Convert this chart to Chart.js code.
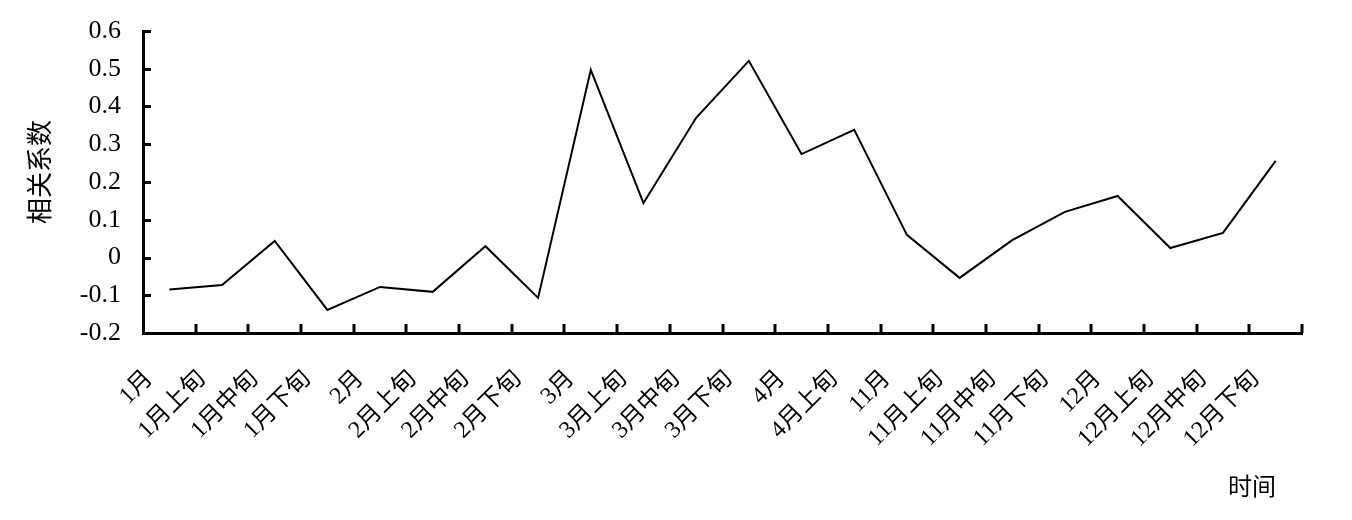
<!DOCTYPE html>
<html>
<head>
<meta charset="utf-8">
<script src="https://cdn.jsdelivr.net/npm/chart.js@4.4.1/dist/chart.umd.min.js"></script>
<style>
  html, body { margin: 0; padding: 0; background: #fff; }
  #wrap { width: 1352px; height: 520px; }
</style>
</head>
<body>
<div id="wrap"><canvas id="corrChart" width="1352" height="520"></canvas></div>
<script>
// categories along the time axis
const categories = [
    "1月", "1月上旬", "1月中旬", "1月下旬",
    "2月", "2月上旬", "2月中旬", "2月下旬",
    "3月", "3月上旬", "3月中旬", "3月下旬",
    "4月", "4月上旬",
    "11月", "11月上旬", "11月中旬", "11月下旬",
    "12月", "12月上旬", "12月中旬", "12月下旬"
];

// correlation coefficient for each period
const corrValues = [
    -0.085, -0.073, 0.044, -0.139,
    -0.078, -0.091, 0.030, -0.107,
    0.497, 0.144, 0.370, 0.521,
    0.274, 0.338,
    0.060, -0.054, 0.046, 0.121,
    0.163, 0.025, 0.065, 0.256
];

const yTickLabels = ["-0.2", "-0.1", "0", "0.1", "0.2", "0.3", "0.4", "0.5", "0.6"];
const yAxisTitle = "相关系数";
const xAxisTitle = "时间";

const fontFamily = "'Liberation Serif', 'Times New Roman', 'Noto Sans CJK SC', serif";

// inward tick marks + both axis titles
const axisMarks = {
    id: "axisMarks",
    afterDraw(chart) {
        const { ctx, chartArea, scales: { x, y } } = chart;
        ctx.save();
        ctx.strokeStyle = "#000";
        ctx.lineWidth = 3;
        const half = (x.getPixelForValue(1) - x.getPixelForValue(0)) / 2;
        for (let i = 1; i <= categories.length; i++) {
            const px = Math.round(x.getPixelForValue(i) - half);
            ctx.beginPath();
            ctx.moveTo(px, chartArea.bottom);
            ctx.lineTo(px, chartArea.bottom - 9);
            ctx.stroke();
        }
        y.ticks.forEach(t => {
            const py = Math.round(y.getPixelForValue(t.value)) + 0.5;
            ctx.beginPath();
            ctx.moveTo(chartArea.left, py);
            ctx.lineTo(chartArea.left + 8, py);
            ctx.stroke();
        });
        ctx.fillStyle = "#000";
        ctx.font = "24px " + fontFamily;
        ctx.textAlign = "right";
        ctx.textBaseline = "middle";
        ctx.fillText(xAxisTitle, chartArea.right - 26, 489);

        ctx.font = "26px " + fontFamily;
        ctx.textAlign = "center";
        ctx.translate(42, 172);
        ctx.rotate(-Math.PI / 2);
        ctx.fillText(yAxisTitle, 0, 0);
        ctx.restore();
    }
};

const ctx = document.getElementById("corrChart").getContext("2d");

new Chart(ctx, {
    type: "line",
    data: {
        labels: categories,
        datasets: [{
            label: yAxisTitle,
            data: corrValues,
            borderColor: "#000",
            borderWidth: 2,
            tension: 0,
            pointRadius: 0,
            fill: false
        }]
    },
    options: {
        responsive: false,
        animation: false,
        layout: { padding: { top: 31, right: 50, left: 0, bottom: 0 } },
        plugins: {
            legend: { display: false },
            tooltip: { enabled: false }
        },
        scales: {
            x: {
                offset: true,
                grid: { display: false, offset: true },
                border: { display: true, color: "#000", width: 3 },
                ticks: {
                    autoSkip: false,
                    minRotation: 45,
                    maxRotation: 45,
                    padding: 24,
                    labelOffset: -20,
                    color: "#000",
                    font: { family: fontFamily, size: 24 }
                },
                afterFit(scale) {
                    scale.height = 187;
                    scale.paddingLeft = 0;
                    scale.paddingRight = 0;
                }
            },
            y: {
                min: -0.2,
                max: 0.6,
                grid: { display: false, drawTicks: false },
                border: { display: true, color: "#000", width: 3 },
                ticks: {
                    stepSize: 0.1,
                    padding: 22,
                    color: "#000",
                    font: { family: fontFamily, size: 26 },
                    callback: (v, i) => yTickLabels[i]
                },
                afterFit(scale) {
                    scale.width = 143;
                    scale.paddingTop = 0;
                    scale.paddingBottom = 0;
                }
            }
        }
    },
    plugins: [axisMarks]
});
</script>
</body>
</html>
